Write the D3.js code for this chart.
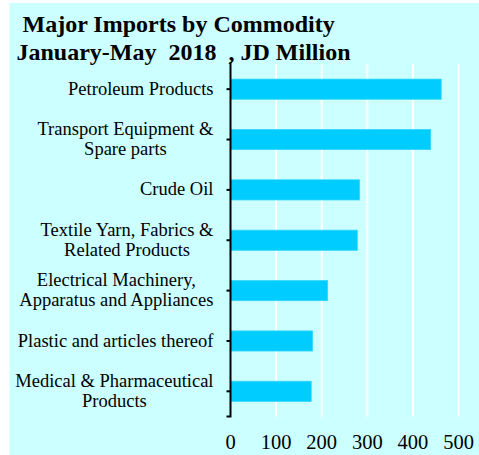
<!DOCTYPE html>
<html>
<head>
<meta charset="utf-8">
<script src="https://cdn.jsdelivr.net/npm/d3@7"></script>
<style>
  html, body { margin: 0; padding: 0; background: #ffffff; }
  svg { display: block; }
  text { font-family: "Times New Roman", "Liberation Serif", serif; fill: #000; }
</style>
</head>
<body>
<svg id="chart" width="479" height="455"></svg>
<script>
// Major imports by commodity, January-May 2018 (JD Million)
const categories = [
  ["Petroleum Products"],
  ["Transport Equipment &", "Spare parts"],
  ["Crude Oil"],
  ["Textile Yarn, Fabrics &", "Related Products"],
  ["Electrical Machinery,", "Apparatus and Appliances"],
  ["Plastic and articles thereof"],
  ["Medical & Pharmaceutical", "Products"]
];
const values = [462, 439, 283, 278, 213, 180, 177];
const xTicks = [0, 100, 200, 300, 400, 500];
const titleLines = ["Major Imports by Commodity", "January-May  2018  , JD Million"];

const svg = d3.select("#chart");
const W = 479, H = 455;
const plotL = 230.5, plotR = 458.5, plotT = 64, plotB = 416.5;

// background panel
svg.append("rect")
  .attr("x", 9.5).attr("y", 3).attr("width", W - 9.5).attr("height", H - 3)
  .attr("fill", "#CCFFFF");

const x = d3.scaleLinear().domain([0, 500]).range([plotL, plotR]);
const y = d3.scaleBand()
  .domain(d3.range(categories.length))
  .range([plotT, plotB])
  .paddingInner(0.6).paddingOuter(0.3);

// vertical gridlines
svg.append("g").selectAll("line")
  .data(xTicks.filter(d => d > 0))
  .join("line")
  .attr("x1", d => x(d)).attr("x2", d => x(d))
  .attr("y1", plotT).attr("y2", plotB)
  .attr("stroke", "#ffffff").attr("stroke-width", 2);

// bars
svg.append("g").selectAll("rect")
  .data(values)
  .join("rect")
  .attr("x", x(0))
  .attr("y", (d, i) => y(i))
  .attr("width", d => x(d) - x(0))
  .attr("height", y.bandwidth())
  .attr("fill", "#00CCFF")
  .attr("stroke", "#33D6FF")
  .attr("stroke-width", 0.8);

// category axis
const yAxis = d3.axisLeft(y).tickSize(4).tickSizeOuter(0).tickFormat(() => "");
const gy = svg.append("g").attr("transform", `translate(${plotL},0)`).call(yAxis);
gy.select(".domain").attr("stroke", "#000").attr("stroke-width", 2)
  .attr("d", `M0,${plotT - 2}V${plotB}H-4`);
gy.selectAll(".tick line").attr("stroke", "#000").attr("stroke-width", 2);

// category labels: each block right-aligned, lines centred within the block
const fs = 18.5, lineH = 20;
const labels = svg.append("g").attr("font-size", fs);
categories.forEach((lines, i) => {
  const t = labels.append("text").attr("text-anchor", "middle");
  const spans = lines.map(ln => t.append("tspan").text(ln).node());
  const blockW = d3.max(spans.map(s => s.getComputedTextLength()));
  const rightEdge = 213.5;
  const cx = rightEdge - blockW / 2;
  const cy = y(i) + y.bandwidth() / 2 + fs * 0.3;
  const startY = cy - (lines.length - 1) * lineH / 2;
  spans.forEach((s, j) => {
    d3.select(s).attr("x", cx).attr("y", startY + j * lineH);
  });
});

// value axis labels
svg.append("g").selectAll("text")
  .data(xTicks)
  .join("text")
  .attr("x", d => x(d))
  .attr("y", 449)
  .attr("text-anchor", "middle")
  .attr("font-size", 20.5)
  .text(d => d);

// title
svg.append("g").selectAll("text")
  .data(titleLines)
  .join("text")
  .attr("x", (d, i) => i === 0 ? 22.5 : 16.5)
  .attr("y", (d, i) => 31.5 + i * 28)
  .attr("font-size", 24)
  .attr("font-weight", "bold")
  .style("white-space", "pre")
  .text(d => d);
</script>
</body>
</html>
